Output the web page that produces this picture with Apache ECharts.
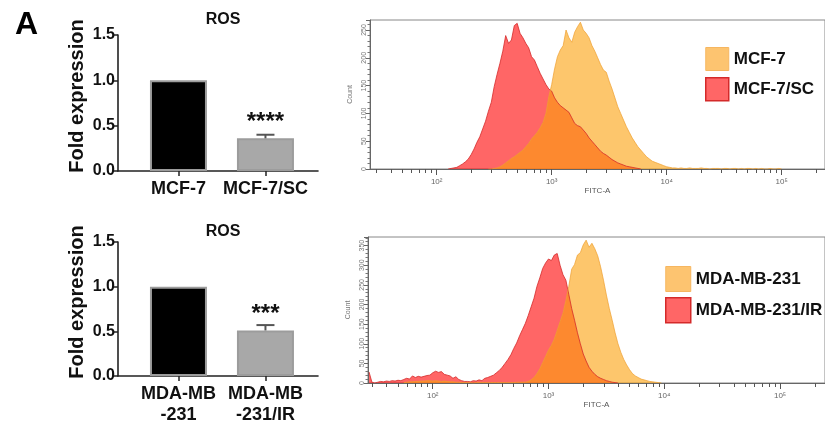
<!DOCTYPE html>
<html><head><meta charset="utf-8">
<script src="https://cdn.jsdelivr.net/npm/echarts@6/dist/echarts.min.js"></script>
<style>html,body{margin:0;padding:0;background:#fff}#c{width:825px;height:427px}</style>
</head><body><div id="c"></div>
<script>
// ---- bar chart data ----
const panelLetter = 'A';
const barTitle = 'ROS';
const yAxisTitle = 'Fold expression';
const barCatsTop = ['MCF-7', 'MCF-7/SC'];
const barMeansTop = [1.0, 0.36];
const barErrTop = [0, 0.04];
const barStarsTop = ['', '****'];
const barCatsBot = ['MDA-MB\n-231', 'MDA-MB\n-231/IR'];
const barMeansBot = [1.0, 0.51];
const barErrBot = [0, 0.06];
const barStarsBot = ['', '***'];

// ---- flow histogram data (log10 FITC-A bins, step binStep) ----
const binStep = 0.025;
const flowTickValues = [2, 3, 4, 5];
const flowTickLabels = ['10\u00B2', '10\u00B3', '10\u2074', '10\u2075'];
const mcf7scStart = 2.10;
const mcf7scCounts = [0,1,2,3,6,9,13,18,26,36,48,58,72,86,104,120,148,170,190,212,240,226,232,258,262,244,236,226,218,202,196,184,172,162,152,144,140,128,120,114,110,106,102,92,82,78,76,70,64,56,50,44,38,32,28,25,21,17,14,11,9,7,5,4,3,2,1,0];
const mcf7Start = 2.45;
const mcf7Counts = [0,0,1,2,4,7,11,15,19,22,26,30,34,40,46,54,60,66,74,84,100,130,152,180,202,214,222,250,236,228,246,256,264,250,244,236,222,212,200,188,178,174,158,144,128,112,100,88,76,66,56,48,40,34,28,22,18,14,12,10,8,6,4,3,2,2,1,2,1,1,2,1,1,1,2,1,1,0,1,1,1,0,1,1,0,1,1,0,1,0,1,1,0,1,0,1,0,0,1,0,0,1,0];
const mdaIrStart = 1.45;
const mdaIrCounts = [28,2,0,2,4,3,5,4,6,5,7,6,9,12,10,18,14,17,15,17,19,20,26,30,27,29,22,20,18,12,16,9,6,4,4,3,6,5,8,6,12,14,17,20,26,32,40,50,60,72,88,102,120,136,152,172,194,216,246,268,292,306,316,312,326,330,300,276,262,226,190,160,128,100,74,56,40,30,22,16,12,9,6,4,2,1,0];
const mdaStart = 1.75;
const mdaCounts = [1,2,3,3,4,4,5,5,6,6,5,6,5,4,5,4,3,3,2,2,1,1,1,1,0,1,1,1,1,1,1,1,1,1,1,1,1,1,1,2,2,2,2,4,8,14,24,36,52,68,84,96,112,134,156,178,210,246,290,302,326,332,352,364,346,356,342,324,296,262,224,190,160,128,100,78,60,46,34,24,18,14,10,8,6,4,3,2,1,0];

const FF = 'Liberation Sans, Arial, sans-serif';
const toPairs = (start, arr) => arr.map((c, i) => [+(start + i * binStep).toFixed(3), c]);
function minorTicks(lo, hi) {
  const out = [];
  for (let n = 1; n <= 5; n++) for (let k = 2; k <= 9; k++) {
    const v = n + Math.log10(k);
    if (v > lo && v < hi) out.push(v);
  }
  return out;
}

const chart = echarts.init(document.getElementById('c'), null, {renderer: 'canvas'});

function barX(grid, cats) {
  return {
    gridIndex: grid, type: 'value', min: 0.305, max: 2.604,
    axisLine: {onZero: false, lineStyle: {color: '#222', width: 1.6}},
    axisTick: {customValues: [1, 2], length: 5, lineStyle: {color: '#222', width: 1.5}},
    axisLabel: {customValues: [1, 2], formatter: v => cats[Math.round(v) - 1],
      fontSize: 18, fontWeight: 'bold', color: '#111', fontFamily: FF, margin: 8, lineHeight: 21},
    splitLine: {show: false}
  };
}
function barY(grid) {
  return {
    gridIndex: grid, type: 'value', min: 0, max: 1.5, interval: 0.5,
    name: yAxisTitle, nameLocation: 'middle', nameGap: 31, nameRotate: 90,
    nameTextStyle: {fontSize: 20, fontWeight: 'bold', color: '#111', fontFamily: FF, padding: [0, 0, 0, 14]},
    axisLine: {show: true, lineStyle: {color: '#222', width: 1.6}},
    axisTick: {show: true, length: 4, lineStyle: {color: '#222', width: 1.5}},
    axisLabel: {formatter: v => v.toFixed(1), fontSize: 16, fontWeight: 'bold', color: '#111', fontFamily: FF, margin: 3},
    splitLine: {show: false}
  };
}
function flowX(grid, lo, hi, major) {
  return major ? {
    gridIndex: grid, type: 'value', min: lo, max: hi, position: 'bottom',
    axisLine: {onZero: false, lineStyle: {color: '#666', width: 1}},
    axisTick: {customValues: flowTickValues, length: 6, lineStyle: {color: '#555'}},
    axisLabel: {customValues: flowTickValues, formatter: v => flowTickLabels[flowTickValues.indexOf(Math.round(v))],
      fontSize: 8, color: '#666', fontFamily: FF, margin: 9},
    splitLine: {show: false},
    name: 'FITC-A', nameLocation: 'middle', nameGap: 18,
    nameTextStyle: {fontSize: 8, color: '#555', fontFamily: FF}
  } : {
    gridIndex: grid, type: 'value', min: lo, max: hi, position: 'bottom',
    axisLine: {show: false},
    axisTick: {customValues: minorTicks(lo, hi), length: 4, lineStyle: {color: '#555'}},
    axisLabel: {show: false}, splitLine: {show: false}
  };
}
function flowY(grid, max) {
  return {
    gridIndex: grid, type: 'value', min: 0, max: max, interval: 50,
    name: 'Count', nameLocation: 'middle', nameGap: 10,
    nameTextStyle: {fontSize: 7, color: '#777', fontFamily: FF},
    axisLine: {show: true, lineStyle: {color: '#666', width: 1}},
    axisTick: {show: true, length: 4, lineStyle: {color: '#666'}},
    minorTick: {show: true, splitNumber: 5, length: 2.5, lineStyle: {color: '#777'}},
    axisLabel: {rotate: 90, fontSize: 7, color: '#777', fontFamily: FF, margin: 2},
    splitLine: {show: false}
  };
}
function errSeries(xi, yi, means, errs, stars, starOff) {
  return {
    type: 'custom', xAxisIndex: xi, yAxisIndex: yi, silent: true, z: 5,
    data: means.map((m, i) => [i + 1, m, errs[i]]),
    renderItem(params, api) {
      const e = api.value(2);
      if (!e) return null;
      const x = api.value(0), m = api.value(1);
      const p0 = api.coord([x, m]), p1 = api.coord([x, m + e]);
      const h = 9;
      return {type: 'group', children: [
        {type: 'line', shape: {x1: p0[0], y1: p0[1], x2: p1[0], y2: p1[1]}, style: {stroke: '#555', lineWidth: 2}},
        {type: 'line', shape: {x1: p1[0] - h, y1: p1[1], x2: p1[0] + h, y2: p1[1]}, style: {stroke: '#555', lineWidth: 2}},
        {type: 'text', x: p1[0], y: p1[1] - starOff, style: {text: stars[params.dataIndex], font: 'bold 24px ' + FF,
          align: 'center', verticalAlign: 'middle', fill: '#111'}}
      ]};
    }
  };
}
const barFills = ['#000000', '#a8a8a8'];
function barSeries(xi, yi, means) {
  return {
    type: 'bar', xAxisIndex: xi, yAxisIndex: yi, barWidth: 57, silent: true,
    data: means.map((v, i) => ({value: [i + 1, v], itemStyle: {color: barFills[i], borderColor: '#9c9c9c', borderWidth: 2}}))
  };
}
function flowSeries(name, xi, yi, start, counts, fill, line) {
  return {
    type: 'line', name: name, xAxisIndex: xi, yAxisIndex: yi, data: toPairs(start, counts),
    symbol: 'none', silent: true, lineStyle: {color: line, width: 0.8},
    itemStyle: {color: line}, areaStyle: {color: fill, opacity: 1, origin: 'start'}
  };
}
const redFill = 'rgba(255,0,0,0.6)', redLine = '#d42a2a';
const orFill = 'rgba(252,160,10,0.6)', orLine = 'rgba(238,160,50,0.9)';

const option = {
  animation: false,
  backgroundColor: '#fff',
  title: [
    {text: panelLetter, left: 10, top: 4, textStyle: {fontSize: 32, fontWeight: 'bold', color: '#000', fontFamily: FF}},
    {text: barTitle, left: 218, top: 7, textAlign: 'center', textStyle: {fontSize: 16, fontWeight: 'bold', color: '#111', fontFamily: FF}},
    {text: barTitle, left: 218, top: 219, textAlign: 'center', textStyle: {fontSize: 16, fontWeight: 'bold', color: '#111', fontFamily: FF}}
  ],
  grid: [
    {left: 118, top: 35, width: 200, height: 136},
    {left: 118, top: 242, width: 200, height: 134},
    {left: 370, top: 20, width: 457, height: 149, show: true, borderColor: '#888', borderWidth: 1},
    {left: 368, top: 237, width: 459, height: 146, show: true, borderColor: '#888', borderWidth: 1}
  ],
  xAxis: [
    barX(0, barCatsTop), barX(1, barCatsBot),
    flowX(2, 1.42, 5.377, true), flowX(2, 1.42, 5.377, false),
    flowX(3, 1.441, 5.388, true), flowX(3, 1.441, 5.388, false)
  ],
  yAxis: [barY(0), barY(1), flowY(2, 268), flowY(3, 372)],
  legend: [
    {orient: 'vertical', left: 700, top: 42, itemWidth: 23, itemHeight: 23, itemGap: 6, icon: 'rect', selectedMode: false,
      textStyle: {fontSize: 17, fontWeight: 'bold', color: '#111', fontFamily: FF},
      data: [{name: 'MCF-7', itemStyle: {color: 'rgb(253,196,112)', borderColor: 'rgb(246,182,96)', borderWidth: 1}},
             {name: 'MCF-7/SC', itemStyle: {color: 'rgb(255,102,102)', borderColor: '#d42a2a', borderWidth: 1.5}}]},
    {orient: 'vertical', left: 660, top: 261, itemWidth: 25, itemHeight: 25, itemGap: 5, icon: 'rect', selectedMode: false,
      textStyle: {fontSize: 17, fontWeight: 'bold', color: '#111', fontFamily: FF},
      data: [{name: 'MDA-MB-231', itemStyle: {color: 'rgb(253,196,112)', borderColor: 'rgb(246,182,96)', borderWidth: 1}},
             {name: 'MDA-MB-231/IR', itemStyle: {color: 'rgb(255,102,102)', borderColor: '#d42a2a', borderWidth: 1.5}}]}
  ],
  series: [
    barSeries(0, 0, barMeansTop), errSeries(0, 0, barMeansTop, barErrTop, barStarsTop, 12),
    barSeries(1, 1, barMeansBot), errSeries(1, 1, barMeansBot, barErrBot, barStarsBot, 11),
    flowSeries('MCF-7/SC', 2, 2, mcf7scStart, mcf7scCounts, redFill, redLine),
    flowSeries('MCF-7', 2, 2, mcf7Start, mcf7Counts, orFill, orLine),
    flowSeries('MDA-MB-231/IR', 4, 3, mdaIrStart, mdaIrCounts, redFill, redLine),
    flowSeries('MDA-MB-231', 4, 3, mdaStart, mdaCounts, orFill, orLine)
  ]
};
chart.setOption(option);
</script>
</body></html>
